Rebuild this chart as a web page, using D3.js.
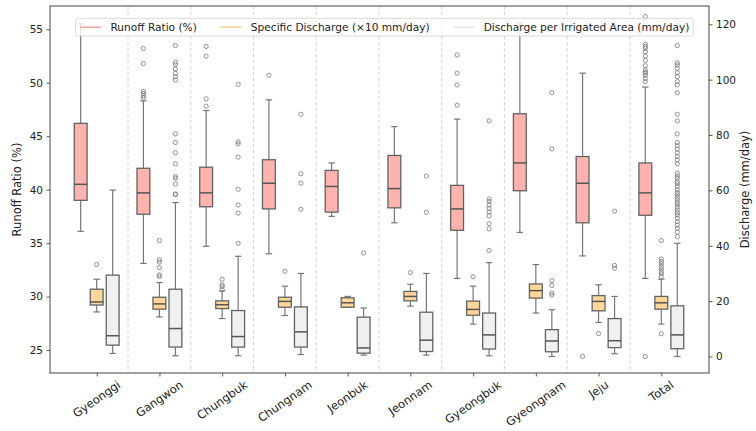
<!DOCTYPE html>
<html>
<head>
<meta charset="utf-8">
<script src="https://cdn.jsdelivr.net/npm/d3@7"></script>
<style>
  body { margin: 0; background: #fff; }
  svg text { font-family: "DejaVu Sans", sans-serif; fill: #222; }
</style>
</head>
<body>
<div id="chart"></div>
<script>
// categories
var regions = ["Gyeonggi", "Gangwon", "Chungbuk", "Chungnam", "Jeonbuk", "Jeonnam", "Gyeongbuk", "Gyeongnam", "Jeju", "Total"];

// box stats: [whisker low, q1, median, q3, whisker high]
// runoff ratio (%) - left axis
var runoffBox = [
  [36.1, 39.0, 40.5, 46.2, 55.5],
  [33.1, 37.7, 39.7, 42.0, 48.3],
  [34.7, 38.4, 39.7, 42.1, 47.4],
  [34.0, 38.2, 40.6, 42.8, 48.4],
  [37.5, 37.9, 40.3, 41.8, 42.5],
  [36.9, 38.3, 40.1, 43.2, 45.9],
  [31.7, 36.2, 38.2, 40.4, 46.6],
  [36.0, 39.9, 42.5, 47.1, 55.6],
  [33.8, 36.9, 40.6, 43.1, 50.9],
  [31.7, 37.6, 39.7, 42.5, 49.6]
];
var runoffOut = [
  [],
  [53.2, 51.8, 49.2, 49.0, 48.8, 48.6],
  [53.4, 52.5, 48.5, 47.8],
  [50.7],
  [],
  [55.7],
  [52.6, 50.9, 49.8, 47.9],
  [],
  [24.4],
  [24.4, 56.2, 55.7, 55.2, 53.6, 53.4, 53.2, 52.9, 52.5, 52.1, 51.6, 51.2, 51.0, 50.9, 50.7, 50.4, 50.1]
];

// specific discharge (x10 mm/day) - right axis
var specBox = [
  [16.1, 18.6, 19.7, 24.3, 27.9],
  [14.3, 17.1, 19.0, 21.4, 26.7],
  [13.7, 17.3, 18.7, 20.1, 23.7],
  [14.8, 17.8, 19.9, 21.4, 25.4],
  [17.8, 17.8, 19.4, 21.2, 21.7],
  [18.2, 20.1, 21.7, 23.5, 26.1],
  [11.7, 14.9, 17.0, 20.0, 25.4],
  [15.7, 21.1, 23.8, 26.2, 33.2],
  [12.3, 16.5, 19.9, 22.0, 25.9],
  [11.7, 17.1, 19.4, 21.7, 27.9]
];
var specOut = [
  [33.2],
  [41.9, 34.9, 34.1, 32.1, 29.5, 28.9],
  [27.9, 25.9, 25.3, 24.1],
  [30.8],
  [],
  [30.3],
  [28.8],
  [],
  [8.3],
  [8.2, 41.9, 35.2, 34.3, 33.5, 32.5, 31.6, 30.7, 29.9, 28.9]
];

// discharge per irrigated area (mm/day) - right axis
var irrBox = [
  [1.1, 4.1, 7.5, 29.4, 60.1],
  [0.25, 3.4, 10.1, 24.3, 55.6],
  [0.25, 3.4, 7.2, 16.6, 36.2],
  [0.7, 3.4, 8.9, 17.9, 30.0],
  [0.5, 1.2, 3.1, 14.2, 17.5],
  [0.5, 1.8, 5.9, 16.0, 30.0],
  [0.25, 2.7, 7.8, 15.7, 33.9],
  [0.0, 1.7, 5.6, 9.7, 16.9],
  [1.0, 3.2, 5.7, 13.7, 21.7],
  [0.0, 2.8, 7.8, 18.3, 40.9]
];
var irrOut = [
  [120.9],
  [112.3, 106.3, 105.4, 103.9, 102.3, 101.1, 99.9, 80.4, 77.3, 73.6, 69.6, 65.0, 64.4, 62.3, 58.7, 58.5],
  [98.3, 77.5, 76.8, 72.0, 60.4, 54.7, 51.8, 40.9],
  [87.5, 66.0, 62.6, 53.2],
  [37.4],
  [65.2, 52.1],
  [85.1, 56.9, 56.0, 54.8, 53.4, 52.2, 50.8, 48.0, 46.1, 38.3],
  [95.3, 75.0, 27.4, 25.6, 22.9, 22.2],
  [52.5, 32.9, 31.9],
  [120.9, 112.3, 106.1, 105.3, 104.1, 102.5, 101.1, 99.3, 98.1, 95.3, 87.5, 85.1, 80.4, 77.3, 76.1, 74.9, 73.6,
   72.2, 71.0, 69.6, 66.2, 65.2, 64.4, 63.2, 62.4, 61.4, 60.2, 59.2, 58.4, 57.5, 56.6, 55.6, 54.8, 53.9, 52.9,
   51.9, 51.1, 49.9, 48.7, 47.5, 46.3, 44.9, 43.3]
];

var leftTicks = [25, 30, 35, 40, 45, 50, 55];
var rightTicks = [0, 20, 40, 60, 80, 100, 120];
var legendLabels = ["Runoff Ratio (%)", "Specific Discharge (\u00d710 mm/day)", "Discharge per Irrigated Area (mm/day)"];

var W = 756, H = 431;
var margin = {top: 6, right: 47, bottom: 58, left: 50};

var svg = d3.select("#chart").append("svg")
  .attr("width", W).attr("height", H);

var x = d3.scaleLinear().domain([-0.744, 9.76]).range([margin.left, W - margin.right]);
var yL = d3.scaleLinear().domain([22.85, 57.18]).range([H - margin.bottom, margin.top]);
var yR = d3.scaleLinear().domain([-5.96, 126.6]).range([H - margin.bottom, margin.top]);

// dashed separators between regions
svg.append("g").selectAll("line")
  .data(d3.range(regions.length - 1))
  .join("line")
  .attr("x1", d => x(d + 0.5)).attr("x2", d => x(d + 0.5))
  .attr("y1", margin.top).attr("y2", H - margin.bottom)
  .attr("stroke", "#c8c8c8").attr("stroke-width", 0.8)
  .attr("stroke-dasharray", "3.5,2.5");

var series = [
  {box: runoffBox, out: runoffOut, y: yL, off: -0.255, fill: "#ffb3ae", line: "#f6a5a2"},
  {box: specBox, out: specOut, y: yR, off: 0, fill: "#ffd79a", line: "#fcd399"},
  {box: irrBox, out: irrOut, y: yR, off: 0.255, fill: "#f0f0f0", line: "#ebebeb"}
];
var bw = 0.205;
var edge = "#636363";

series.forEach(function(s) {
  var g = svg.append("g");
  s.box.forEach(function(b, i) {
    var cx = x(i + s.off), x0 = x(i + s.off - bw / 2), x1 = x(i + s.off + bw / 2);
    var cap0 = x(i + s.off - bw / 4), cap1 = x(i + s.off + bw / 4);
    // whiskers
    g.append("line").attr("x1", cx).attr("x2", cx).attr("y1", s.y(b[0])).attr("y2", s.y(b[1]))
      .attr("stroke", "#777").attr("stroke-width", 1.2);
    g.append("line").attr("x1", cx).attr("x2", cx).attr("y1", s.y(b[3])).attr("y2", s.y(b[4]))
      .attr("stroke", "#777").attr("stroke-width", 1.2);
    g.append("line").attr("x1", cap0).attr("x2", cap1).attr("y1", s.y(b[0])).attr("y2", s.y(b[0]))
      .attr("stroke", "#777").attr("stroke-width", 1.2);
    g.append("line").attr("x1", cap0).attr("x2", cap1).attr("y1", s.y(b[4])).attr("y2", s.y(b[4]))
      .attr("stroke", "#777").attr("stroke-width", 1.2);
    // box
    g.append("rect").attr("x", x0).attr("width", x1 - x0)
      .attr("y", s.y(b[3])).attr("height", s.y(b[1]) - s.y(b[3]))
      .attr("fill", s.fill).attr("stroke", edge).attr("stroke-width", 1.3);
    g.append("line").attr("x1", x0).attr("x2", x1).attr("y1", s.y(b[2])).attr("y2", s.y(b[2]))
      .attr("stroke", "#555").attr("stroke-width", 1.5);
    // outliers
    g.selectAll(null).data(s.out[i]).join("circle")
      .attr("cx", cx).attr("cy", d => s.y(d)).attr("r", 2.1)
      .attr("fill", "none").attr("stroke", "#777").attr("stroke-width", 0.8);
  });
});

// axes
var xAxis = svg.append("g")
  .attr("transform", "translate(0," + (H - margin.bottom) + ")")
  .call(d3.axisBottom(x).tickValues(d3.range(regions.length)).tickSize(3.5).tickFormat(""));
var leftAxis = svg.append("g")
  .attr("transform", "translate(" + margin.left + ",0)")
  .call(d3.axisLeft(yL).tickValues(leftTicks).tickSize(3.5).tickPadding(3.5));
var rightAxis = svg.append("g")
  .attr("transform", "translate(" + (W - margin.right) + ",0)")
  .call(d3.axisRight(yR).tickValues(rightTicks).tickSize(3.5).tickPadding(3.5));
[xAxis, leftAxis, rightAxis].forEach(function(a) {
  a.select(".domain").remove();
  a.selectAll(".tick line").attr("stroke", "#333").attr("stroke-width", 0.8);
  a.selectAll(".tick text").attr("font-size", 10.5).style("fill", "#222");
});
svg.append("rect")
  .attr("x", margin.left).attr("y", margin.top)
  .attr("width", W - margin.left - margin.right).attr("height", H - margin.top - margin.bottom)
  .attr("fill", "none").attr("stroke", "#444").attr("stroke-width", 1);

// rotated category labels, centred under ticks
var theta = 35, rad = theta * Math.PI / 180;
svg.append("g").selectAll("text")
  .data(regions)
  .join("text")
  .text(d => d)
  .attr("font-size", 11.5)
  .attr("text-anchor", "middle")
  .attr("dominant-baseline", "central")
  .each(function(d, i) {
    var L = this.getComputedTextLength(), h = 13;
    var bh = L * Math.sin(rad) + h * Math.cos(rad);
    d3.select(this).attr("transform",
      "translate(" + x(i) + "," + (H - margin.bottom + 5 + bh / 2) + ") rotate(" + (-theta) + ")");
  });

// axis titles
svg.append("text")
  .attr("transform", "translate(17," + ((margin.top + H - margin.bottom) / 2) + ") rotate(-90)")
  .attr("text-anchor", "middle").attr("dominant-baseline", "central")
  .attr("font-size", 11.5).text("Runoff Ratio (%)");
svg.append("text")
  .attr("transform", "translate(745," + ((margin.top + H - margin.bottom) / 2) + ") rotate(-90)")
  .attr("text-anchor", "middle").attr("dominant-baseline", "central")
  .attr("font-size", 11.5).text("Discharge (mm/day)");

// legend
var lg = svg.append("g");
var lgBox = lg.append("rect")
  .attr("x", 75.7).attr("y", 18.3).attr("height", 17.7).attr("rx", 2.5)
  .attr("fill", "#fff").attr("fill-opacity", 0.8)
  .attr("stroke", "#d0d0d0").attr("stroke-width", 0.8);
var fs = 10.6, cursor = 75.7 + 4;
series.forEach(function(s, i) {
  lg.append("line").attr("x1", cursor).attr("x2", cursor + 2 * fs)
    .attr("y1", 27.2).attr("y2", 27.2)
    .attr("stroke", s.line).attr("stroke-width", 1.6);
  var t = lg.append("text").attr("x", cursor + 2.9 * fs).attr("y", 27.2)
    .attr("dominant-baseline", "central").attr("font-size", fs)
    .text(legendLabels[i]);
  cursor += 2.9 * fs + t.node().getComputedTextLength() + 2.2 * fs;
});
lgBox.attr("width", cursor - 2.2 * fs + 4 - 75.7);
</script>
</body>
</html>
